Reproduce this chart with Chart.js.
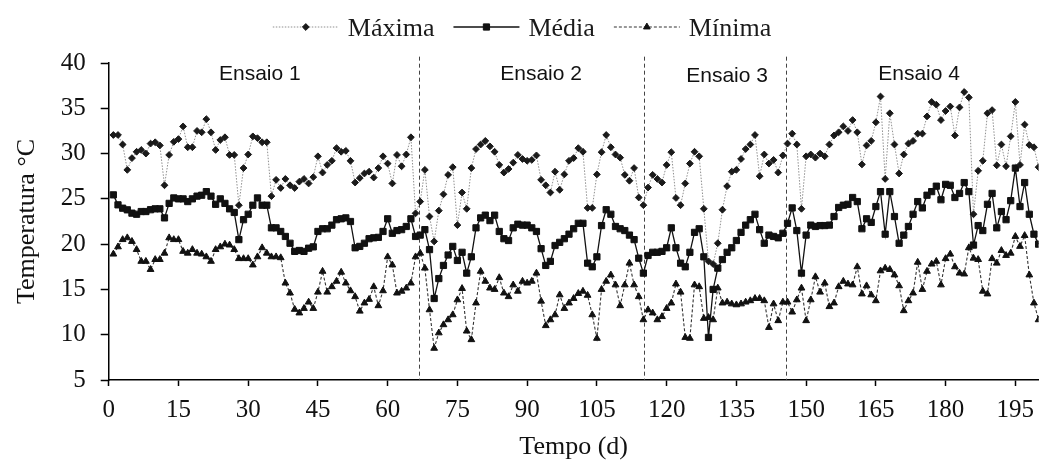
<!DOCTYPE html>
<html>
<head>
<meta charset="utf-8">
<script src="https://cdn.jsdelivr.net/npm/chart.js@4.4.1/dist/chart.umd.min.js"></script>
<style>
  html, body { margin: 0; padding: 0; background: #fff; }
  #wrap { width: 1044px; height: 460px; }
</style>
</head>
<body>
<div id="wrap"><canvas id="tempChart"></canvas></div>
<script>
// Temperaturas diárias (°C), dia 1 a 200
const maxima = [
  32.05, 32.05, 31.0, 28.2, 29.5, 30.2, 30.4, 30.0, 31.1, 31.25, 30.9, 26.5, 29.85, 31.3, 31.6, 33.0, 30.7, 30.7, 32.5, 32.35, 33.8, 32.35, 30.4, 31.5, 31.8,
  29.85, 29.85, 24.3, 28.4, 29.9, 31.9, 31.7, 31.25, 31.25, 25.3, 27.1, 26.2, 27.2, 26.5, 26.2, 26.9, 27.2, 26.7, 27.4, 29.7, 27.9, 28.75, 29.2, 30.6, 30.2,
  30.3, 29.2, 26.8, 27.3, 27.8, 28.0, 27.35, 28.4, 29.7, 28.9, 26.7, 29.85, 28.6, 29.9, 31.8, 23.4, 24.7, 28.2, 23.05, 20.3, 23.7, 25.5, 27.65, 28.5, 22.1, 25.7,
  23.9, 28.4, 30.5, 31.0, 31.4, 30.8, 30.2, 28.75, 27.9, 28.3, 29.0, 29.85, 29.4, 29.2, 29.3, 29.8, 27.1, 26.5, 25.7, 28.0, 26.0, 27.7, 29.2, 29.5, 30.6,
  30.2, 24.0, 24.0, 27.7, 30.15, 32.05, 30.7, 29.9, 29.55, 27.65, 27.0, 28.4, 25.15, 24.3, 26.25, 27.65, 27.2, 26.8, 28.75, 30.15, 25.1, 24.3, 26.7, 28.9, 30.2, 29.7,
  23.9, 18.1, 17.8, 20.1, 23.8, 26.4, 28.0, 28.2, 29.4, 30.5, 31.0, 32.05, 27.5, 29.9, 28.9, 29.3, 27.9, 29.8, 31.1, 32.2, 31.0, 23.9, 29.7, 29.9, 29.55, 30.0,
  29.7, 31.0, 32.0, 32.35, 33.0, 32.5, 33.7, 32.35, 28.8, 30.9, 31.4, 33.45, 36.3, 27.2, 34.45, 31.0, 27.8, 29.9, 31.1, 31.4, 32.2, 32.2, 34.1, 35.7, 35.4, 33.7,
  34.7, 35.2, 32.0, 35.1, 36.8, 36.2, 23.3, 28.1, 29.2, 34.45, 34.8, 28.7, 31.0, 28.6, 31.9, 35.7, 28.75, 33.2, 30.95, 30.7, 28.5
];
const media = [
  25.44, 24.34, 23.97, 23.79, 23.42, 23.3, 23.6, 23.6, 23.8, 23.9, 23.9, 22.9, 24.5, 25.1, 25.0, 25.0, 24.7, 25.0, 25.3, 25.4, 25.8, 25.3, 24.4, 25.0, 24.5,
  23.9, 23.5, 20.5, 22.7, 23.3, 24.3, 25.1, 24.3, 24.3, 21.8, 21.8, 21.4, 20.85, 20.1, 19.2, 19.3, 19.2, 19.55, 19.7, 21.4, 21.7, 21.7, 22.1, 22.7, 22.8,
  22.9, 22.5, 19.6, 19.75, 20.1, 20.6, 20.7, 20.75, 21.4, 22.8, 21.2, 21.5, 21.6, 21.95, 22.8, 20.85, 21.0, 21.6, 19.4, 14.0, 16.2, 17.65, 18.8, 19.75, 18.2, 19.1,
  16.8, 18.6, 21.8, 22.9, 23.2, 22.6, 23.2, 21.4, 20.6, 20.4, 21.8, 22.2, 22.1, 22.1, 21.8, 21.4, 19.5, 17.65, 18.1, 19.85, 20.2, 20.6, 21.1, 21.7, 22.3,
  22.3, 17.9, 17.5, 18.6, 22.05, 23.8, 23.3, 21.95, 21.7, 21.5, 21.0, 20.5, 18.45, 16.8, 18.75, 19.1, 19.1, 19.2, 19.6, 21.8, 19.6, 17.9, 17.5, 19.1, 21.3, 21.7,
  18.6, 9.7, 15.0, 17.35, 18.3, 19.1, 19.6, 20.4, 21.3, 22.1, 22.7, 23.3, 21.6, 20.1, 21.0, 20.85, 20.7, 21.2, 22.3, 24.0, 21.5, 16.8, 21.0, 22.1, 21.95, 22.05,
  22.05, 22.1, 23.05, 24.05, 24.3, 24.4, 25.15, 24.7, 21.7, 22.8, 22.4, 24.15, 25.8, 21.1, 25.8, 23.05, 20.1, 21.0, 21.95, 23.3, 24.7, 24.0, 25.4, 25.8, 26.4, 24.9,
  26.6, 26.5, 25.15, 25.6, 26.8, 25.8, 19.9, 22.05, 21.5, 24.4, 25.6, 21.8, 23.6, 22.7, 24.8, 28.4, 24.15, 26.8, 23.3, 21.1, 20.0
];
const minima = [
  18.9, 19.7, 20.5, 20.7, 20.3, 19.4, 18.1, 18.1, 17.2, 18.3, 18.3, 19.0, 20.7, 20.5, 20.5, 19.2, 19.0, 19.4, 19.0, 18.9, 18.6, 18.1, 19.4, 19.7, 20.0,
  19.9, 19.4, 18.4, 18.4, 18.4, 17.7, 18.6, 19.6, 19.0, 18.6, 18.6, 18.5, 15.7, 14.6, 12.8, 12.4, 12.9, 13.6, 12.9, 14.7, 17.0, 14.7, 15.3, 15.9, 16.9,
  15.7, 14.85, 14.2, 12.6, 13.5, 13.9, 15.3, 13.2, 14.85, 18.6, 17.7, 14.6, 14.8, 15.15, 15.7, 18.6, 19.0, 17.35, 12.75, 8.5, 10.2, 11.1, 11.65, 12.2, 13.85, 15.1,
  10.4, 9.45, 13.5, 17.0, 15.9, 15.15, 15.0, 16.3, 14.6, 14.2, 15.5, 14.8, 15.9, 15.7, 15.9, 16.8, 13.7, 11.0, 11.65, 12.2, 14.4, 12.9, 13.5, 14.0, 14.55,
  14.8, 14.35, 12.2, 9.6, 15.0, 15.9, 16.6, 15.5, 13.2, 15.5, 17.9, 15.5, 14.2, 11.65, 12.75, 12.4, 11.65, 12.0, 12.9, 13.5, 15.6, 14.7, 9.7, 9.6, 15.5, 15.3,
  11.8, 11.9, 11.65, 15.15, 13.5, 13.6, 13.4, 13.3, 13.4, 13.6, 13.75, 14.0, 14.0, 13.75, 10.8, 13.4, 11.55, 13.6, 13.6, 12.5, 13.85, 15.15, 11.55, 13.85,
  16.4, 14.7, 15.7, 13.1, 13.5, 15.3, 15.9, 15.6, 15.5, 17.5, 14.5, 15.4, 14.4, 13.75, 17.05, 17.35, 17.2, 16.6, 15.4, 12.65, 13.75, 14.6, 18.0, 15.0, 17.0, 17.8, 18.1, 15.5,
  18.4, 18.9, 17.5, 16.8, 16.7, 19.6, 18.45, 18.3, 14.8, 14.5, 18.4, 17.9, 19.3, 18.75, 19.0, 20.85, 19.75, 20.95, 16.6, 13.5, 11.65
];
const dias = maxima.map((_, i) => i + 1);

const xTicks = [0, 15, 30, 45, 60, 75, 90, 105, 120, 135, 150, 165, 180, 195];
const yTicks = [5, 10, 15, 20, 25, 30, 35, 40];

// Divisões entre ensaios (dia) e posição dos rótulos (dia, °C da linha de base)
const ensaioLimites = [66.8, 115.1, 145.6];
const ensaioNomes = ['Ensaio 1', 'Ensaio 2', 'Ensaio 3', 'Ensaio 4'];
const ensaioCentros = [32.5, 93, 133, 174.3];
const ensaioAlturas = [38.1, 38.1, 37.9, 38.1];

const SERIF = '"Liberation Serif", "Times New Roman", serif';
const SANS = '"Liberation Sans", Arial, sans-serif';

const toPoints = arr => arr.map((v, i) => ({ x: dias[i], y: v }));

// linhas tracejadas verticais + nomes dos ensaios
const ensaios = {
  id: 'ensaios',
  beforeDatasetsDraw(chart) {
    const { ctx, scales: { x, y } } = chart;
    ctx.save();
    ctx.strokeStyle = '#444';
    ctx.lineWidth = 1;
    ctx.setLineDash([4, 3]);
    ensaioLimites.forEach(d => {
      const px = Math.round(x.getPixelForValue(d)) + 0.5;
      ctx.beginPath();
      ctx.moveTo(px, y.getPixelForValue(40.7));
      ctx.lineTo(px, y.getPixelForValue(5));
      ctx.stroke();
    });
    ctx.setLineDash([]);
    ctx.fillStyle = '#111';
    ctx.font = '21px ' + SANS;
    ctx.textAlign = 'center';
    ctx.textBaseline = 'alphabetic';
    ensaioNomes.forEach((nome, i) => {
      ctx.fillText(nome, x.getPixelForValue(ensaioCentros[i]), y.getPixelForValue(ensaioAlturas[i]));
    });
    ctx.restore();
  }
};

// legenda com amostra de linha + marcador
const legenda = {
  id: 'legenda',
  afterDraw(chart) {
    const { ctx } = chart;
    const lineLen = 66, gapText = 9, gapItem = 19, ly = 27, baseY = 36;
    ctx.save();
    ctx.font = '26px ' + SERIF;
    const items = chart.data.datasets;
    const widths = items.map(ds => lineLen + gapText + ctx.measureText(ds.label).width);
    const total = widths.reduce((a, b) => a + b, 0) + gapItem * (items.length - 1);
    let cx = chart.width / 2 - total / 2;
    items.forEach((ds, i) => {
      ctx.strokeStyle = ds.borderColor;
      ctx.lineWidth = ds.borderWidth;
      ctx.setLineDash(ds.borderDash || []);
      ctx.beginPath();
      ctx.moveTo(cx, ly);
      ctx.lineTo(cx + lineLen, ly);
      ctx.stroke();
      ctx.setLineDash([]);
      ctx.fillStyle = ds.pointBackgroundColor;
      ctx.strokeStyle = ds.pointBorderColor;
      ctx.lineWidth = ds.pointBorderWidth;
      Chart.helpers.drawPoint(ctx, {
        pointStyle: ds.pointStyle, radius: ds.pointRadius, rotation: 0, borderWidth: ds.pointBorderWidth
      }, cx + lineLen / 2, ly);
      ctx.fillStyle = '#1a1a1a';
      ctx.textAlign = 'left';
      ctx.textBaseline = 'alphabetic';
      ctx.fillText(ds.label, cx + lineLen + gapText, baseY);
      cx += widths[i] + gapItem;
    });
    ctx.restore();
  }
};

new Chart(document.getElementById('tempChart'), {
  type: 'line',
  data: {
    datasets: [
      {
        label: 'Máxima',
        data: toPoints(maxima),
        borderColor: '#8f8f8f',
        borderWidth: 1,
        borderDash: [1.5, 1.5],
        pointStyle: 'rectRot',
        pointRadius: 3.4,
        pointBackgroundColor: '#1a1a1a',
        pointBorderColor: '#1a1a1a',
        pointBorderWidth: 1,
        tension: 0
      },
      {
        label: 'Média',
        data: toPoints(media),
        borderColor: '#111',
        borderWidth: 1.3,
        pointStyle: 'rect',
        pointRadius: 4.4,
        pointBackgroundColor: '#111',
        pointBorderColor: '#111',
        pointBorderWidth: 1,
        tension: 0
      },
      {
        label: 'Mínima',
        data: toPoints(minima),
        borderColor: '#333',
        borderWidth: 1.1,
        borderDash: [3, 2],
        pointStyle: 'triangle',
        pointRadius: 3.9,
        pointBackgroundColor: '#111',
        pointBorderColor: '#111',
        pointBorderWidth: 1,
        tension: 0
      }
    ]
  },
  options: {
    responsive: true,
    maintainAspectRatio: false,
    animation: false,
    layout: { padding: { top: 63, right: 0, bottom: 0, left: 0 } },
    plugins: { legend: { display: false }, tooltip: { enabled: false } },
    scales: {
      x: {
        type: 'linear',
        min: 0,
        max: 200,
        afterBuildTicks: s => { s.ticks = xTicks.map(v => ({ value: v })); },
        afterFit: s => { s.height = 80; },
        border: { color: '#000', width: 1.5 },
        grid: { drawOnChartArea: false, drawTicks: true, tickLength: 6, tickColor: '#000', tickWidth: 1.5 },
        ticks: { color: '#111', font: { family: SERIF, size: 25 }, padding: 9, maxRotation: 0, autoSkip: false },
        title: {
          display: true, text: 'Tempo (d)', color: '#111',
          font: { family: SERIF, size: 26, lineHeight: 1 }, padding: { top: 0, bottom: 0 }
        }
      },
      y: {
        min: 5,
        max: 40,
        afterBuildTicks: s => { s.ticks = yTicks.map(v => ({ value: v })); },
        afterFit: s => { s.width = 108.7; },
        border: { color: '#000', width: 1.5 },
        grid: { drawOnChartArea: false, drawTicks: true, tickLength: 8, tickColor: '#000', tickWidth: 1.5 },
        ticks: { color: '#111', font: { family: SERIF, size: 25 }, padding: 15 },
        title: {
          display: true, text: 'Temperatura °C', color: '#111',
          font: { family: SERIF, size: 26, lineHeight: 1 }, padding: { top: 14, bottom: 0 }
        }
      }
    }
  },
  plugins: [ensaios, legenda]
});
</script>
</body>
</html>
